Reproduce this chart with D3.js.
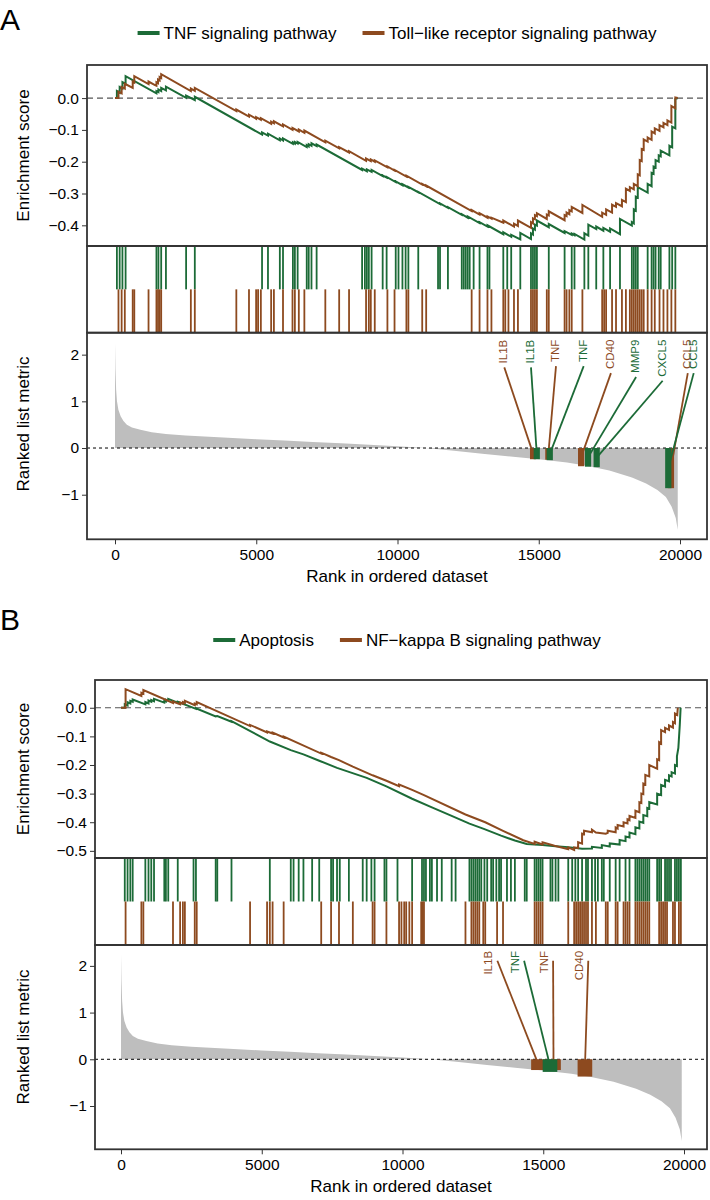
<!DOCTYPE html>
<html>
<head>
<meta charset="utf-8">
<script src="https://cdn.jsdelivr.net/npm/d3@7"></script>
<style>
body { margin: 0; background: #fff; }
text { font-family: "Liberation Sans", Arial, sans-serif; }
</style>
</head>
<body>
<svg width="710" height="1200"></svg>
<script>
// ---- data ----
const N = 19920;

// ranked list metric (rank, value)
const metricRank = [0, 15, 40, 70, 120, 200, 300, 420, 600, 900, 1300, 1800, 2500, 3000, 4000, 5000, 6000, 7000, 8000, 9000, 10000, 11000, 12000, 13000, 14000, 15000, 16000, 16700, 17500, 18300, 18800, 19200, 19500, 19700, 19850, 19920];
const metricValue = [2.25, 1.7, 1.25, 1.0, 0.82, 0.68, 0.58, 0.5, 0.44, 0.39, 0.34, 0.3, 0.27, 0.25, 0.22, 0.19, 0.16, 0.13, 0.1, 0.07, 0.04, 0.0, -0.06, -0.12, -0.18, -0.24, -0.31, -0.38, -0.48, -0.63, -0.76, -0.9, -1.05, -1.25, -1.5, -1.75];

// panel A: running enrichment score [rank, ES]
const esTnfA = [[0,0],[67,0],[67,0.022],[165,0.017],[165,0.035],[263,0.03],[263,0.05],[375,0.045],[375,0.069],
  [1467,0.015],[1467,0.022],[1537,0.019],[1537,0.027],[1635,0.022],[1635,0.032],[1803,0.024],[1803,0.036],
  [2517,0.001],[2517,0.008],[2825,-0.006],[2825,0.004],
  [5205,-0.115],[5205,-0.108],[5415,-0.118],[5415,-0.112],[5835,-0.133],[5835,-0.127],[5947,-0.133],[5947,-0.127],
  [6297,-0.144],[6297,-0.139],[6367,-0.143],[6367,-0.138],[6465,-0.143],[6465,-0.138],[6787,-0.154],[6787,-0.148],
  [6857,-0.152],[6857,-0.145],[6955,-0.15],[6955,-0.142],[7137,-0.151],[7137,-0.146],
  [8747,-0.226],[8747,-0.222],[8915,-0.23],[8915,-0.224],[9083,-0.232],[9083,-0.226],
  [9475,-0.245],[9475,-0.243],[9615,-0.25],[9615,-0.248],[9937,-0.264],[9937,-0.262],[10175,-0.274],[10175,-0.271],
  [10385,-0.281],[10385,-0.279],[10735,-0.296],[10735,-0.295],[11505,-0.333],[11505,-0.331],[11785,-0.345],[11785,-0.343],
  [12275,-0.367],[12275,-0.365],[12485,-0.376],[12485,-0.372],[12905,-0.393],[12905,-0.39],
  [13185,-0.404],[13185,-0.4],[13745,-0.428],[13745,-0.422],[14025,-0.436],[14025,-0.43],[14347,-0.444],[14347,-0.424],
  [14725,-0.443],[14725,-0.425],[14795,-0.429],[14795,-0.41],[14865,-0.414],[14865,-0.398],[14935,-0.401],[14935,-0.385],
  [15355,-0.406],[15355,-0.396],[15915,-0.424],[15915,-0.418],[16167,-0.43],[16167,-0.426],[16265,-0.431],[16265,-0.427],
  [16615,-0.445],[16615,-0.425],[16755,-0.432],[16755,-0.398],[17035,-0.412],[17035,-0.404],[17287,-0.417],[17287,-0.408],
  [17525,-0.42],[17525,-0.41],[17875,-0.428],[17875,-0.38],[18295,-0.401],[18295,-0.39],[18365,-0.394],[18365,-0.35],
  [18435,-0.354],[18435,-0.31],[18505,-0.313],[18505,-0.28],[18855,-0.297],[18855,-0.27],[18995,-0.277],[18995,-0.235],
  [19065,-0.238],[19065,-0.215],[19135,-0.218],[19135,-0.195],[19247,-0.2],[19247,-0.18],[19317,-0.183],[19317,-0.165],
  [19625,-0.18],[19625,-0.15],[19723,-0.155],[19723,-0.09],[19835,-0.095],[19835,-0.003],[19920,0]];

const esTollA = [[0,0],[123,0],[123,0.02],[235,0.015],[235,0.035],[347,0.03],[347,0.045],[627,0.032],[627,0.052],[683,0.049],[683,0.069],
  [1187,0.044],[1187,0.052],[1415,0.041],[1467,0.039],[1467,0.05],[1523,0.047],[1523,0.058],[1579,0.055],[1579,0.066],[1635,0.063],[1635,0.075],
  [2685,0.022],[2685,0.03],[2825,0.023],[2825,0.032],
  [4295,-0.041],[4295,-0.036],[4743,-0.058],[4743,-0.052],[4995,-0.065],[4995,-0.06],[5163,-0.068],[5163,-0.063],
  [5527,-0.081],[5527,-0.074],[5625,-0.079],[5625,-0.073],[5947,-0.089],[5947,-0.083],[6283,-0.1],[6283,-0.094],
  [6507,-0.105],[6507,-0.099],[6703,-0.109],[6703,-0.102],[7445,-0.139],[7445,-0.134],[7935,-0.158],[7935,-0.154],
  [8285,-0.171],[8285,-0.167],[8887,-0.197],[8887,-0.19],[9055,-0.198],[9055,-0.193],[9195,-0.2],[9195,-0.196],
  [9643,-0.218],[9643,-0.215],[9895,-0.228],[9895,-0.226],[10315,-0.247],[10315,-0.244],
  [10875,-0.272],[10875,-0.27],[11015,-0.277],[11015,-0.275],
  [12625,-0.355],[12625,-0.352],[12905,-0.366],[12905,-0.362],[13185,-0.376],[13185,-0.372],[13325,-0.379],[13325,-0.376],
  [13745,-0.392],[13745,-0.385],[14123,-0.404],[14123,-0.395],[14263,-0.402],[14263,-0.385],
  [14725,-0.408],[14725,-0.39],[14795,-0.394],[14795,-0.378],[14865,-0.381],[14865,-0.368],[14935,-0.371],[14935,-0.362],
  [15285,-0.38],[15285,-0.366],[15355,-0.369],[15355,-0.356],[15915,-0.384],[15915,-0.368],[15985,-0.371],[15985,-0.36],
  [16083,-0.365],[16083,-0.352],[16167,-0.356],[16167,-0.342],[16545,-0.361],[16545,-0.336],
  [17245,-0.373],[17245,-0.36],[17385,-0.367],[17385,-0.35],[17595,-0.36],[17595,-0.335],[17735,-0.342],[17735,-0.33],
  [17945,-0.34],[17945,-0.32],[18085,-0.327],[18085,-0.285],[18225,-0.292],[18225,-0.28],[18365,-0.287],[18365,-0.27],
  [18505,-0.277],[18505,-0.24],[18575,-0.243],[18575,-0.195],[18645,-0.198],[18645,-0.16],[18715,-0.163],[18715,-0.13],
  [18855,-0.137],[18855,-0.124],[18995,-0.131],[18995,-0.105],[19107,-0.111],[19107,-0.095],[19275,-0.103],[19275,-0.085],
  [19415,-0.092],[19415,-0.078],[19555,-0.085],[19555,-0.07],[19695,-0.077],[19695,-0.025],[19835,-0.032],[19835,0.002],[19920,0]];

const hitsTnfA = [67,165,263,375,1467,1537,1635,1803,2517,2825,5205,5415,5835,5947,6297,6367,6465,6787,6857,6955,7137,
  8747,8845,8915,8985,9083,9475,9615,9937,10035,10175,10287,10385,10735,11435,11505,11785,12275,12345,12415,12485,12555,
  12695,12905,13185,13255,13745,13885,14025,14347,14725,14795,14865,14935,15355,15915,16167,16265,16615,16755,17035,
  17287,17525,17875,18295,18365,18435,18505,18855,18995,19065,19135,19247,19317,19625,19723,19835];
const hitsTollA = [123,235,347,627,683,1187,1467,1523,1579,1635,2685,2825,4295,4743,4995,5065,5163,5527,5625,5947,6283,
  6367,6507,6703,7445,7935,8285,8887,8985,9055,9195,9643,9895,10315,10385,10875,11015,12625,12905,13185,13325,13745,
  13815,13927,14123,14263,14725,14795,14865,14935,15285,15355,15915,15985,16083,16167,16545,17245,17315,17385,17595,
  17735,17945,18085,18225,18295,18365,18435,18505,18575,18645,18715,18855,18995,19107,19275,19415,19555,19695,19835];

const genesA = [
  {gene: 'IL1B', set: 1, rank: 14800, value: -0.24, labelRank: 13745},
  {gene: 'TNF', set: 1, rank: 15340, value: -0.25, labelRank: 15575},
  {gene: 'CD40', set: 1, rank: 16500, value: -0.39, labelRank: 17520},
  {gene: 'CCL5', set: 1, rank: 19680, value: -0.86, labelRank: 20240},
  {gene: 'IL1B', set: 0, rank: 14930, value: -0.24, labelRank: 14690},
  {gene: 'TNF', set: 0, rank: 15390, value: -0.26, labelRank: 16555},
  {gene: 'MMP9', set: 0, rank: 16745, value: -0.40, labelRank: 18410},
  {gene: 'CXCL5', set: 0, rank: 17050, value: -0.41, labelRank: 19350},
  {gene: 'CCL5', set: 0, rank: 19585, value: -0.86, labelRank: 20450}
];

// panel B
const esApopB = [[0,0],[134,0],[134,0.012],[233,0.008],[233,0.019],[331,0.015],[331,0.024],[415,0.021],[415,0.029],
  [865,0.012],[865,0.02],[977,0.015],[977,0.025],[1075,0.021],[1075,0.027],[1173,0.023],[1173,0.031],
  [1538,0.018],[1538,0.024],[1595,0.022],[1595,0.028],[1679,0.025],[1679,0.031],[2016,0.018],[2016,0.021],
  [2662,-0.004],[2662,-0.002],[3364,-0.03],[3420,-0.029],[3925,-0.049],[3925,-0.047],[5287,-0.118],[6031,-0.148],
  [6481,-0.163],[7042,-0.185],[7674,-0.21],[8095,-0.224],[8727,-0.245],[9429,-0.275],[10342,-0.318],[11044,-0.348],
  [11746,-0.378],[12378,-0.405],[12911,-0.424],[13501,-0.447],[13992,-0.464],[14413,-0.476],[14975,-0.48],
  [15438,-0.484],[15888,-0.487],[16379,-0.493],[16730,-0.492],[16730,-0.486],[17081,-0.49],[17081,-0.48],
  [17362,-0.485],[17362,-0.474],[17713,-0.478],[17713,-0.462],[17923,-0.466],[17923,-0.45],[18064,-0.453],[18064,-0.436],
  [18274,-0.442],[18274,-0.418],[18415,-0.422],[18415,-0.398],[18555,-0.402],[18555,-0.375],[18695,-0.379],[18695,-0.35],
  [18766,-0.353],[18766,-0.33],[19046,-0.338],[19046,-0.3],[19187,-0.305],[19187,-0.27],[19327,-0.275],[19327,-0.252],
  [19468,-0.257],[19468,-0.236],[19560,-0.24],[19560,-0.225],[19679,-0.23],[19679,-0.2],[19749,-0.203],[19749,-0.17],
  [19800,-0.14],[19850,-0.06],[19880,0]];

const esNfkbB = [[0,0],[163,0],[163,0.065],[724,0.041],[724,0.052],[794,0.049],[794,0.062],[1847,0.017],[1847,0.022],
  [2100,0.012],[2100,0.018],[2198,0.014],[2198,0.02],[2269,0.017],[2269,0.024],[2620,0.009],[2620,0.015],[2690,0.012],[2690,0.02],
  [4585,-0.064],[4585,-0.06],[5189,-0.086],[5189,-0.083],[5385,-0.09],[5385,-0.087],[5778,-0.104],[5778,-0.101],
  [7112,-0.16],[7112,-0.157],[7463,-0.172],[7744,-0.183],[8236,-0.206],[8938,-0.236],[9429,-0.255],[9878,-0.274],[9878,-0.268],
  [10342,-0.287],[10763,-0.305],[12237,-0.373],[12939,-0.4],[13571,-0.43],[14290,-0.463],[14694,-0.476],[14694,-0.468],
  [14975,-0.478],[14975,-0.47],[15400,-0.482],[15888,-0.494],[15888,-0.488],[16098,-0.497],[16098,-0.488],
  [16239,-0.49],[16239,-0.47],[16379,-0.475],[16379,-0.44],[16449,-0.442],[16449,-0.43],[16730,-0.435],[16730,-0.426],
  [16870,-0.436],[17221,-0.44],[17291,-0.437],[17291,-0.43],[17572,-0.435],[17572,-0.418],[17642,-0.422],[17642,-0.41],
  [17853,-0.415],[17853,-0.4],[17993,-0.404],[17993,-0.39],[18064,-0.393],[18064,-0.378],[18274,-0.385],[18274,-0.36],
  [18415,-0.365],[18415,-0.33],[18485,-0.333],[18485,-0.3],[18555,-0.302],[18555,-0.265],[18625,-0.268],[18625,-0.235],
  [18766,-0.24],[18766,-0.2],[19046,-0.213],[19046,-0.18],[19117,-0.183],[19117,-0.12],[19187,-0.125],[19187,-0.078],
  [19327,-0.085],[19327,-0.07],[19468,-0.077],[19468,-0.062],[19608,-0.069],[19608,-0.05],[19679,-0.054],[19679,-0.02],
  [19760,-0.025],[19780,0]];

const hitsApopB = [134,233,331,415,865,977,1075,1173,1538,1595,1679,2016,2577,2662,3364,3420,3925,5287,6031,6130,6312,
  6481,6790,7042,7463,7534,7674,7772,8095,8587,8727,8895,9008,9359,9429,9822,10342,10693,10763,10833,10973,11044,11226,
  11395,11746,11886,12378,12448,12518,12588,12658,12728,12799,12911,13009,13150,13220,13333,13431,13501,13711,13852,
  13992,14343,14413,14694,14764,14834,14905,14975,15256,15326,15438,15537,15888,16028,16140,16239,16379,16519,16589,
  16730,16842,16940,17081,17151,17362,17572,17713,17923,18064,18274,18344,18415,18485,18555,18625,18695,18766,19046,
  19117,19187,19327,19397,19468,19538,19679,19749,19819,19889];
const hitsNfkbB = [163,724,794,1847,2100,2198,2269,2620,2690,4585,5189,5287,5385,5778,7112,7463,7744,8236,8938,9008,9429,
  9878,9962,10061,10131,10243,10342,10664,10721,10763,12237,12448,12518,12588,12658,12728,12869,12939,13360,13571,14694,
  14764,14834,14905,14975,15888,16098,16168,16239,16309,16379,16449,16519,16589,16730,16870,17221,17291,17572,17642,
  17853,17923,17993,18064,18274,18344,18415,18485,18555,18625,18695,18766,19117,19187,19257,19327,19397,19608,19679,
  19819,19889];

const genesB = [
  {gene: 'IL1B', set: 1, rank: 14830, value: -0.23, labelRank: 13050},
  {gene: 'TNF', set: 1, rank: 15365, value: -0.23, labelRank: 15030},
  {gene: 'CD40', set: 1, rank: 16480, value: -0.37, labelRank: 16280},
  {gene: 'TNF', set: 0, rank: 15240, value: -0.27, labelRank: 14000}
];

const xTicks = [0, 5000, 10000, 15000, 20000];
const rankTicks = [-1, 0, 1, 2];

// ---- drawing ----
const svg = d3.select('svg');
const colors = ['#1c6b37', '#8d4a1f'];  // set 0 green, set 1 brown
const frame = '#333333';

const panels = [
  {
    letter: 'A', letterY: 30, legendY: 33, legendX: 397,
    names: ['TNF signaling pathway', 'Toll\u2212like receptor signaling pathway'],
    es: [esTnfA, esTollA], hits: [hitsTnfA, hitsTollA], genes: genesA,
    left: 87, right: 707, esTop: 65, esBottom: 246, hitBottom: 332.7, rankBottom: 539.3,
    x0: 115, x20k: 680,
    esDomain: [-0.465, 0.104], esTicks: [-0.4, -0.3, -0.2, -0.1, 0],
    rankDomain: [-1.955, 2.47],
    rankTitleY: 424, rectHalf: 110, labelStyle: 'below'
  },
  {
    letter: 'B', letterY: 630, legendY: 640, legendX: 407,
    names: ['Apoptosis', 'NF\u2212kappa B signaling pathway'],
    es: [esApopB, esNfkbB], hits: [hitsApopB, hitsNfkbB], genes: genesB,
    left: 95, right: 707, esTop: 680, esBottom: 858, hitBottom: 945, rankBottom: 1149.3,
    x0: 121, x20k: 684,
    esDomain: [-0.525, 0.097], esTicks: [-0.5, -0.4, -0.3, -0.2, -0.1, 0],
    rankDomain: [-1.927, 2.447],
    rankTitleY: 1037, rectHalf: 260, labelStyle: 'side'
  }
];

function styleAxis(sel) {
  sel.select('.domain').remove();
  sel.selectAll('line').attr('stroke', frame);
  sel.selectAll('text').attr('font-size', 15.5).attr('fill', '#000')
    .style('font-family', '"Liberation Sans", Arial, sans-serif');
}

panels.forEach(p => {
  const g = svg.append('g');
  const x = d3.scaleLinear().domain([0, 20000]).range([p.x0, p.x20k]);
  const yEs = d3.scaleLinear().domain(p.esDomain).range([p.esBottom, p.esTop]);
  const yRk = d3.scaleLinear().domain(p.rankDomain).range([p.rankBottom, p.hitBottom]);
  const hitMid = (p.esBottom + p.hitBottom) / 2;

  // panel letter
  g.append('text').attr('x', 0).attr('y', p.letterY).attr('font-size', 30).text(p.letter);

  // legend
  const leg = g.append('g');
  let cx = 0;
  p.names.forEach((name, i) => {
    leg.append('line').attr('x1', cx).attr('x2', cx + 22).attr('y1', 0).attr('y2', 0)
      .attr('stroke', colors[i]).attr('stroke-width', 4);
    const t = leg.append('text').attr('x', cx + 26).attr('y', 6).attr('font-size', 17).text(name);
    cx += 26 + t.node().getComputedTextLength() + 26;
  });
  const legW = cx - 26;
  leg.attr('transform', `translate(${p.legendX - legW / 2},${p.legendY})`);

  // running enrichment score
  g.append('line').attr('x1', p.left).attr('x2', p.right)
    .attr('y1', yEs(0)).attr('y2', yEs(0))
    .attr('stroke', '#555').attr('stroke-width', 1.2).attr('stroke-dasharray', '6,4');
  const esLine = d3.line().x(d => x(d[0])).y(d => yEs(d[1]));
  p.es.forEach((series, i) => {
    g.append('path').datum(series).attr('d', esLine)
      .attr('fill', 'none').attr('stroke', colors[i]).attr('stroke-width', 2);
  });

  // hit positions
  p.hits.forEach((hits, i) => {
    g.append('g').selectAll('line').data(hits).enter().append('line')
      .attr('x1', d => x(d)).attr('x2', d => x(d))
      .attr('y1', i === 0 ? p.esBottom : hitMid)
      .attr('y2', i === 0 ? hitMid : p.hitBottom)
      .attr('stroke', colors[i]).attr('stroke-width', 1.8);
  });

  // ranked list metric
  const metric = metricRank.map((r, k) => [r, metricValue[k]]);
  g.append('path').datum(metric)
    .attr('d', d3.area().x(d => x(d[0])).y0(yRk(0)).y1(d => yRk(d[1])))
    .attr('fill', '#bebebe');
  g.append('line').attr('x1', p.left).attr('x2', p.right)
    .attr('y1', yRk(0)).attr('y2', yRk(0))
    .attr('stroke', '#000').attr('stroke-width', 1).attr('stroke-dasharray', '3,3');

  // labelled genes
  p.genes.forEach(d => {
    const col = colors[d.set];
    const lx = x(d.labelRank);
    const top = yRk(2.32);
    const t = g.append('text')
      .attr('transform', `translate(${lx + 4},${top}) rotate(-90)`)
      .attr('text-anchor', 'end').attr('font-size', 11.5).attr('fill', col).text(d.gene);
    const len = t.node().getComputedTextLength();
    const sx = p.labelStyle === 'below' ? lx + 1 : lx + 9;
    const sy = p.labelStyle === 'below' ? top + len + 4 : yRk(2.11);
    g.append('line').attr('x1', sx).attr('y1', sy)
      .attr('x2', x(d.rank)).attr('y2', yRk(d.value / 2))
      .attr('stroke', col).attr('stroke-width', 1.8);
    g.append('rect')
      .attr('x', x(d.rank - p.rectHalf)).attr('width', x(d.rank + p.rectHalf) - x(d.rank - p.rectHalf))
      .attr('y', yRk(0)).attr('height', yRk(d.value) - yRk(0))
      .attr('fill', col);
  });

  // frames
  [[p.esTop, p.esBottom], [p.esBottom, p.hitBottom], [p.hitBottom, p.rankBottom]].forEach(b => {
    g.append('rect').attr('x', p.left).attr('y', b[0])
      .attr('width', p.right - p.left).attr('height', b[1] - b[0])
      .attr('fill', 'none').attr('stroke', frame).attr('stroke-width', 1.8);
  });

  // axes
  g.append('g').attr('transform', `translate(${p.left},0)`)
    .call(d3.axisLeft(yEs).tickValues(p.esTicks).tickFormat(d3.format('.1f')).tickSize(5))
    .call(styleAxis);
  g.append('g').attr('transform', `translate(${p.left},0)`)
    .call(d3.axisLeft(yRk).tickValues(rankTicks).tickFormat(d3.format('d')).tickSize(5))
    .call(styleAxis);
  g.append('g').attr('transform', `translate(0,${p.rankBottom})`)
    .call(d3.axisBottom(x).tickValues(xTicks).tickFormat(d3.format('d')).tickSize(5).tickPadding(5))
    .call(styleAxis);

  // axis titles
  g.append('text').attr('transform', `translate(29,${(p.esTop + p.esBottom) / 2}) rotate(-90)`)
    .attr('text-anchor', 'middle').attr('font-size', 17).text('Enrichment score');
  g.append('text').attr('transform', `translate(29,${p.rankTitleY}) rotate(-90)`)
    .attr('text-anchor', 'middle').attr('font-size', 17).text('Ranked list metric');
  g.append('text').attr('x', (p.left + p.right) / 2).attr('y', p.rankBottom + 43)
    .attr('text-anchor', 'middle').attr('font-size', 17).text('Rank in ordered dataset');
});
</script>
</body>
</html>
